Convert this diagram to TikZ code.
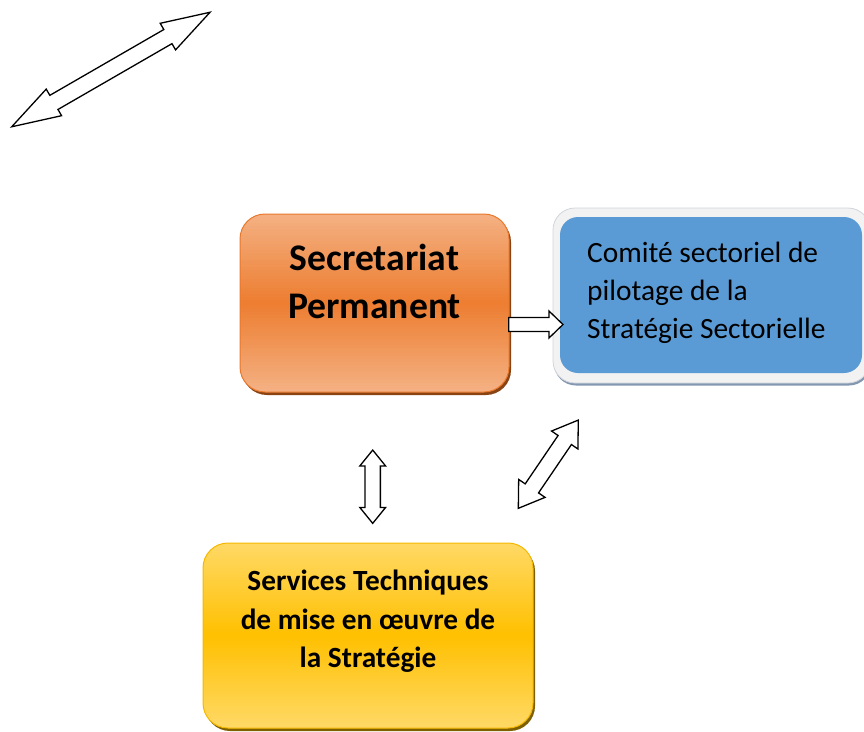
\documentclass[tikz,border=0pt]{standalone}
\usepackage{fontspec}
\setmainfont{Carlito}
\usetikzlibrary{shapes.arrows,shadows,calc}

\definecolor{orTop}{HTML}{F4B183}
\definecolor{orMid}{HTML}{ED7D31}
\definecolor{orEdge}{HTML}{E8782C}
\definecolor{orShadow}{HTML}{8A4312}
\definecolor{yeTop}{HTML}{FFD966}
\definecolor{yeMid}{HTML}{FFC000}
\definecolor{yeEdge}{HTML}{F5B800}
\definecolor{yeShadow}{HTML}{7F6000}
\definecolor{blFill}{HTML}{5B9BD5}
\definecolor{frFill}{HTML}{F2F2F2}
\definecolor{frEdge}{HTML}{D0D5DC}
\definecolor{frShadow}{HTML}{8497B0}

\tikzset{
  % vertical light-dark-light gradient built from thin bands
  bandfill/.style 2 args={fill=#1, path picture={
    \foreach \k in {0,...,59}{
      \pgfmathsetmacro\mix{100*(1-abs(2*(\k+0.5)/60-1))}
      \fill[sharp corners, #2!\mix!#1]
        ($(path picture bounding box.north west)!{\k/60}!(path picture bounding box.south west)$)
        rectangle
        ($(path picture bounding box.north east)!{(\k+1.2)/60}!(path picture bounding box.south east)$);
    }}},
  orangebox/.style={rectangle, rounded corners=25pt, draw=orEdge, line width=1pt,
    bandfill={orTop}{orMid},
    drop shadow={shadow xshift=2pt, shadow yshift=-3pt, fill=orShadow, opacity=1}},
  yellowbox/.style={rectangle, rounded corners=25pt, draw=yeEdge, line width=1pt,
    bandfill={yeTop}{yeMid},
    drop shadow={shadow xshift=2pt, shadow yshift=-3pt, fill=yeShadow, opacity=1}},
  framebox/.style={rectangle, rounded corners=22pt, draw=frEdge, line width=0.8pt, fill=frFill,
    drop shadow={shadow xshift=1pt, shadow yshift=-2.5pt, fill=frShadow, opacity=1}},
  bluebox/.style={rectangle, rounded corners=18pt, fill=blFill},
  label/.style={inner sep=0pt, anchor=base},
  dblarrow/.style={double arrow, draw=black, fill=white, line width=1.3pt, inner sep=0pt},
  sglarrow/.style={single arrow, draw=black, fill=white, line width=1.3pt, inner sep=0pt},
}

\begin{document}
\begin{tikzpicture}[x=1pt, y=-1pt]
\useasboundingbox (0,0) rectangle (864,731);
\clip (0,0) rectangle (864,731);

% boxes
\node[orangebox, minimum width=269pt, minimum height=178pt] (sp) at (374.5,303) {};
\node[framebox, minimum width=317pt, minimum height=175pt] (frame) at (711.5,295.5) {};
\node[bluebox, minimum width=302pt, minimum height=156pt] (csp) at (711,295) {};
\node[yellowbox, minimum width=330pt, minimum height=185pt] (st) at (368,635.5) {};

% labels (anchored on the baseline of their last line)
\node[label, font=\bfseries\fontsize{37.6}{48}\selectfont, align=center] (sptext) at (374.5,318.3) {Secretariat\\Permanent};
\node[label, font=\fontsize{29.4}{38}\selectfont, align=left, anchor=base west] (csptext) at (587,338.3) {Comité sectoriel de\\pilotage de la\\Stratégie Sectorielle};
\node[label, font=\bfseries\fontsize{29.3}{38.6}\selectfont, align=center] (sttext) at (368,667.7) {Services Techniques\\de mise en œuvre de\\la Stratégie};

% block arrows
\node[dblarrow, rotate=30, minimum height=229pt, inner ysep=7.5pt,
  double arrow head extend=7.2pt, double arrow tip angle=35] (tl) at (110.9,69.5) {};
\node[sglarrow, minimum height=54.3pt, inner ysep=6.35pt,
  single arrow head extend=6.5pt, single arrow tip angle=88] (sp-csp) at (532.2,324.5) {};
\node[dblarrow, rotate=90, minimum height=73.3pt, inner ysep=7pt,
  double arrow head extend=5.2pt, double arrow tip angle=78] (sp-st) at (372.7,486.7) {};
\node[dblarrow, rotate=55.8, minimum height=106.7pt, inner ysep=7.4pt,
  double arrow head extend=7.9pt, double arrow tip angle=67] (csp-st) at (548.3,464.2) {};
\end{tikzpicture}
\end{document}
